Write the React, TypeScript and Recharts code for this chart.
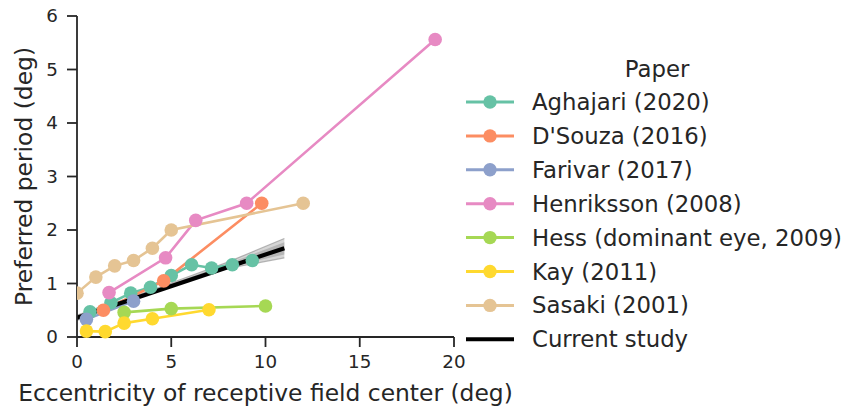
import React from 'react';
import { ComposedChart, Line, Area, XAxis, YAxis, Legend } from 'recharts';

const X_TICKS = [0, 5, 10, 15, 20];
const Y_TICKS = [0, 1, 2, 3, 4, 5, 6];

const SERIES_NAMES = [
  'Aghajari (2020)',
  "D'Souza (2016)",
  'Farivar (2017)',
  'Henriksson (2008)',
  'Hess (dominant eye, 2009)',
  'Kay (2011)',
  'Sasaki (2001)',
];
const SERIES_COLORS = ['#66c2a5', '#fc8d62', '#8da0cb', '#e78ac3', '#a6d854', '#ffd92f', '#e5c494'];

const ECC_AGHAJARI = [0.69, 1.8, 2.85, 3.9, 5.0, 6.08, 7.14, 8.24, 9.3];
const PER_AGHAJARI = [0.47, 0.64, 0.82, 0.93, 1.15, 1.35, 1.29, 1.35, 1.43];
const ECC_DSOUZA = [1.4, 4.6, 9.8];
const PER_DSOUZA = [0.5, 1.05, 2.5];
const ECC_FARIVAR = [0.5, 3.0];
const PER_FARIVAR = [0.33, 0.67];
const ECC_HENRIKSSON = [1.7, 4.7, 6.3, 9.0, 19.0];
const PER_HENRIKSSON = [0.83, 1.48, 2.18, 2.5, 5.56];
const ECC_HESS = [2.5, 5, 10];
const PER_HESS = [0.46, 0.53, 0.58];
const ECC_KAY = [0.5, 1.5, 2.5, 4, 7];
const PER_KAY = [0.11, 0.1, 0.26, 0.34, 0.51];
const ECC_SASAKI = [0, 1, 2, 3, 4, 5, 12];
const PER_SASAKI = [0.82, 1.12, 1.33, 1.43, 1.66, 2.0, 2.5];

const ECC_CURRENT = [0, 11];
const PER_CURRENT = [0.36, 1.66];
const CURRENT_NAME = 'Current study';

const BAND_X = [0, 2, 4, 6, 8, 11];
const BAND_LOW = [0.31, 0.57, 0.83, 1.07, 1.28, 1.48];
const BAND_HIGH = [0.41, 0.64, 0.88, 1.14, 1.4, 1.84];
const BAND_IN_LOW = [0.33, 0.59, 0.845, 1.09, 1.31, 1.54];
const BAND_IN_HIGH = [0.39, 0.625, 0.87, 1.12, 1.37, 1.77];

const SERIES_ECC = [ECC_AGHAJARI, ECC_DSOUZA, ECC_FARIVAR, ECC_HENRIKSSON, ECC_HESS, ECC_KAY, ECC_SASAKI];
const SERIES_PER = [PER_AGHAJARI, PER_DSOUZA, PER_FARIVAR, PER_HENRIKSSON, PER_HESS, PER_KAY, PER_SASAKI];

const toPoints = (xs: number[], ys: number[]) => xs.map((x, i) => ({ x, y: ys[i] }));
const bandData = BAND_X.map((x, i) => ({ x, outer: [BAND_LOW[i], BAND_HIGH[i]], inner: [BAND_IN_LOW[i], BAND_IN_HIGH[i]] }));

const FONT = '"DejaVu Sans", sans-serif';
const INK = '#262626';

const LegendBox = () => {
  const rowH = 33.9;
  const y0 = 52;
  return (
    <svg width={385} height={310} style={{ display: 'block', fontFamily: FONT }}>
      <text x={195} y={19} textAnchor="middle" dominantBaseline="central" fontSize={22.8} fill={INK}>Paper</text>
      {SERIES_NAMES.map((name, i) => (
        <g key={name}>
          <line x1={4} x2={52} y1={y0 + i * rowH} y2={y0 + i * rowH} stroke={SERIES_COLORS[i]} strokeWidth={3} />
          <circle cx={28} cy={y0 + i * rowH} r={6.7} fill={SERIES_COLORS[i]} />
          <text x={70} y={y0 + i * rowH} dominantBaseline="central" fontSize={22.8} fill={INK}>{name}</text>
        </g>
      ))}
      <line x1={4} x2={52} y1={y0 + 7 * rowH} y2={y0 + 7 * rowH} stroke="#000" strokeWidth={4} />
      <text x={70} y={y0 + 7 * rowH} dominantBaseline="central" fontSize={22.8} fill={INK}>{CURRENT_NAME}</text>
    </svg>
  );
};

const YLabel = () => (
  <text x={24} y={176.5} transform="rotate(-90 24 176.5)" textAnchor="middle" dominantBaseline="central"
    fontSize={23.4} fill={INK} fontFamily={FONT}>Preferred period (deg)</text>
);

export default function App() {
  return (
    <div style={{ position: 'absolute', left: 0, top: 0, width: 847, height: 409, background: '#fff' }}>
      <ComposedChart width={847} height={409} margin={{ top: 16, right: 393, bottom: 0, left: 0 }}
        style={{ fontFamily: FONT }}>
        <XAxis type="number" dataKey="x" domain={[0, 20]} ticks={X_TICKS} allowDataOverflow
          height={72} tickSize={10} tickMargin={8}
          axisLine={{ stroke: INK, strokeWidth: 1.8 }} tickLine={{ stroke: INK, strokeWidth: 1.8 }}
          tick={{ fill: INK, fontSize: 18.3, fontFamily: FONT }}
          label={{ value: 'Eccentricity of receptive field center (deg)', position: 'insideBottom', offset: 8, fill: INK, fontSize: 23.4, fontFamily: FONT }} />
        <YAxis type="number" domain={[0, 6]} ticks={Y_TICKS} width={77} tickSize={10} tickMargin={9}
          axisLine={{ stroke: INK, strokeWidth: 1.8 }} tickLine={{ stroke: INK, strokeWidth: 1.8 }}
          tick={{ fill: INK, fontSize: 18.3, fontFamily: FONT }}
          label={() => <YLabel />} />
        <Area data={bandData} dataKey="outer" type="linear" stroke="#888" strokeOpacity={0.6} strokeWidth={1.2}
          fill="#999" fillOpacity={0.4} isAnimationActive={false} legendType="none" dot={false} activeDot={false} />
        <Area data={bandData} dataKey="inner" type="linear" stroke="none"
          fill="#888" fillOpacity={0.4} isAnimationActive={false} legendType="none" dot={false} activeDot={false} />
        {SERIES_NAMES.map((name, i) => (
          <Line key={name} name={name} data={toPoints(SERIES_ECC[i], SERIES_PER[i])} dataKey="y" type="linear"
            stroke={SERIES_COLORS[i]} strokeWidth={2.6}
            dot={{ r: 6.8, fill: SERIES_COLORS[i], stroke: SERIES_COLORS[i], strokeWidth: 0 }}
            activeDot={false} isAnimationActive={false} />
        ))}
        <Line name={CURRENT_NAME} data={toPoints(ECC_CURRENT, PER_CURRENT)} dataKey="y" type="linear"
          stroke="#000" strokeWidth={4.2} dot={false} activeDot={false} isAnimationActive={false} />
        <Legend layout="vertical" align="center" verticalAlign="middle" content={() => <LegendBox />}
          wrapperStyle={{ position: 'absolute', left: 462, top: 50, width: 385, height: 310 }} />
      </ComposedChart>
    </div>
  );
}
